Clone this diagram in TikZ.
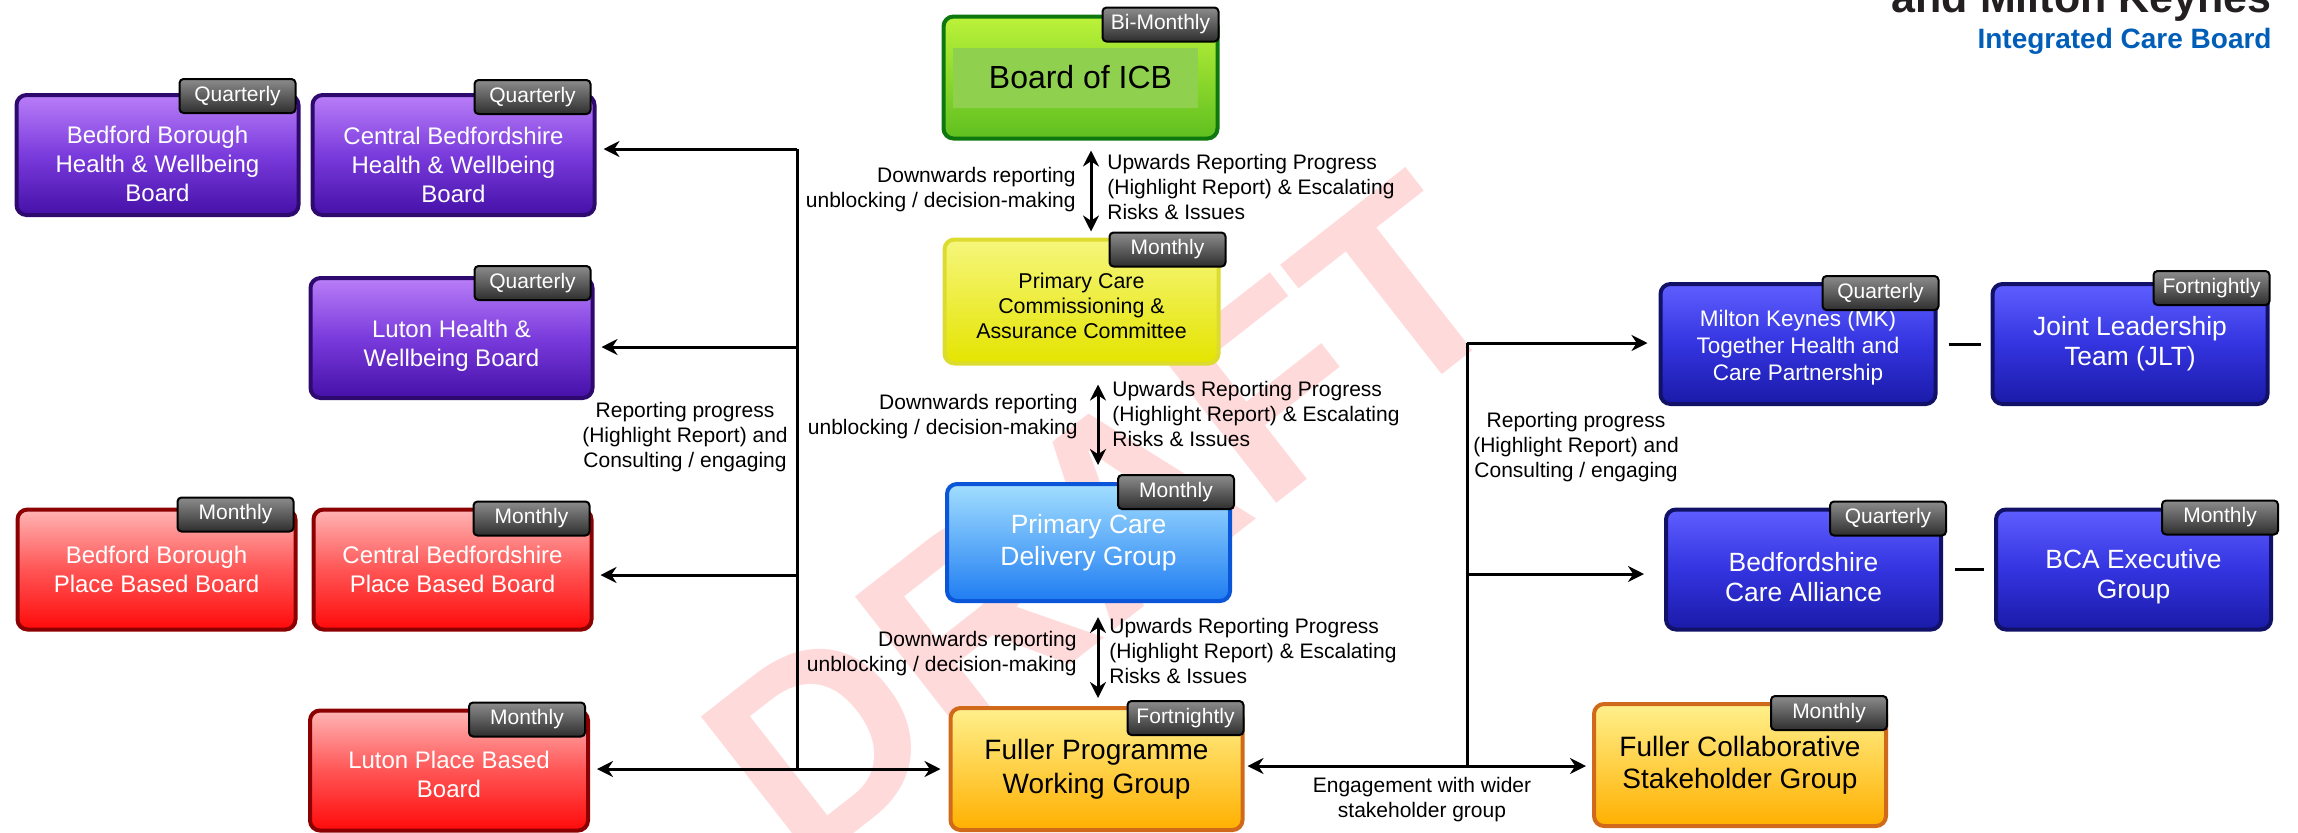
\documentclass[tikz,border=0pt]{standalone}
\usepackage{fontspec}
\setmainfont{Liberation Sans}
\usetikzlibrary{arrows.meta,positioning}

\definecolor{purpleline}{HTML}{2E0A6E}
\definecolor{purpletop}{HTML}{B97EF8}
\definecolor{purplemid}{HTML}{7A3BDC}
\definecolor{purplebot}{HTML}{4510A8}
\definecolor{redline}{HTML}{8B0000}
\definecolor{redtop}{HTML}{FFB5B5}
\definecolor{redmid}{HTML}{FF5555}
\definecolor{redbot}{HTML}{FF0A0A}
\definecolor{navyline}{HTML}{111168}
\definecolor{navytop}{HTML}{5E5EFF}
\definecolor{navymid}{HTML}{3434E0}
\definecolor{navybot}{HTML}{1A1AA8}
\definecolor{icbline}{HTML}{0E780E}
\definecolor{icbtop}{HTML}{BCF23A}
\definecolor{icbbot}{HTML}{5FBF1F}
\definecolor{icbinner}{HTML}{8FD14F}
\definecolor{yelline}{HTML}{DCDC30}
\definecolor{yeltop}{HTML}{F6F67C}
\definecolor{yelbot}{HTML}{E4E400}
\definecolor{blueline}{HTML}{0B55D8}
\definecolor{bluetop}{HTML}{A2DEFF}
\definecolor{bluebot}{HTML}{1F7DF2}
\definecolor{orangeline}{HTML}{D06A1A}
\definecolor{orangetop}{HTML}{FFF08C}
\definecolor{orangebot}{HTML}{FFB000}
\definecolor{tagtop}{HTML}{8C8C8C}
\definecolor{tagbot}{HTML}{2E2E2E}
\definecolor{draftpink}{HTML}{FFDADA}
\definecolor{logoblack}{HTML}{231F20}
\definecolor{nhsblue}{HTML}{005EB8}

\newcommand\droptext[1]{\rule{0pt}{#1}}

\tikzset{>={Stealth[length=8pt,width=8pt]},node distance=148pt,
  board/.style={draw,line width=2pt,rounded corners=5pt,inner sep=2pt,align=center,
    minimum width=139pt,minimum height=60pt,text=white,font=\fontsize{12}{14.5}\selectfont},
  purplebox/.style={board,minimum width=141pt,draw=purpleline,top color=purpletop,bottom color=purplebot,middle color=purplemid},
  redbox/.style={board,draw=redline,top color=redtop,bottom color=redbot,middle color=redmid},
  navybox/.style={board,minimum width=137.5pt,draw=navyline,top color=navytop,bottom color=navybot,middle color=navymid,
    font=\fontsize{13.2}{15}\selectfont},
  greenbox/.style={board,minimum width=137pt,minimum height=61pt,draw=icbline,top color=icbtop,bottom color=icbbot,
    text=black,font=\fontsize{16}{19}\selectfont,
    path picture={\fill[icbinner,sharp corners] ([xshift=4.5pt,yshift=-15.5pt]path picture bounding box.north west)
      rectangle ([xshift=-10pt,yshift=15.5pt]path picture bounding box.south east);}},
  yellowbox/.style={board,minimum width=137pt,minimum height=62pt,draw=yelline,top color=yeltop,bottom color=yelbot,
    text=black,font=\fontsize{10.7}{12.5}\selectfont},
  bluebox/.style={board,minimum width=141.5pt,minimum height=58.5pt,draw=blueline,top color=bluetop,bottom color=bluebot,
    font=\fontsize{13.2}{16}\selectfont},
  orangebox/.style={board,minimum width=146pt,minimum height=61pt,draw=orangeline,top color=orangetop,bottom color=orangebot,
    text=black,font=\fontsize{14}{17}\selectfont},
  freq/.style={draw=black,line width=1pt,rounded corners=2pt,top color=tagtop,bottom color=tagbot,text=white,
    minimum width=58pt,minimum height=17pt,inner sep=1pt,anchor=north east,font=\fontsize{10.5}{12}\selectfont},
  note/.style={inner sep=0pt,font=\fontsize{10.5}{12.5}\selectfont},
  bus/.style={line width=1.5pt}
}

\begin{document}
\begin{tikzpicture}[x=0.5pt,y=-0.5pt]
  \useasboundingbox (0,0) rectangle (2298,832);

  \node[rotate=38,text=draftpink,font=\fontsize{135}{135}\selectfont\bfseries] (draft) at (1105,520) {DRAFT};

  \node[anchor=base east,inner sep=0pt,text=logoblack,font=\fontsize{21.5}{24}\selectfont\bfseries] (logo) at (2272,12) {and Milton Keynes};
  \node[anchor=base east,inner sep=0pt,text=nhsblue,font=\fontsize{14}{16}\selectfont\bfseries] (icbname) at (2272,48) {Integrated Care Board};

  \node[greenbox] (icb) at (1080.5,77.5) {Board of ICB};
  \node[yellowbox] (pccac) at (1081.5,301.5) {\droptext{12.3pt}Primary Care\\Commissioning \&\\Assurance Committee};
  \node[bluebox] (pcdg) at (1088.5,542.5) {Primary Care\\Delivery Group};
  \node[orangebox] (fpwg) at (1096.5,769) {Fuller Programme\\Working Group};

  \node[purplebox] (bbhwb) at (157.5,155) {\droptext{17.8pt}Bedford Borough\\Health \& Wellbeing\\Board};
  \node[purplebox] (cbhwb) [right of=bbhwb] {\droptext{18.5pt}Central Bedfordshire\\Health \& Wellbeing\\Board};
  \node[purplebox] (luhwb) at (451.5,338) {\droptext{16.8pt}Luton Health \&\\Wellbeing Board};
  \node[redbox] (bbpbb) at (156.5,569.5) {Bedford Borough\\Place Based Board};
  \node[redbox] (cbpbb) [right of=bbpbb] {Central Bedfordshire\\Place Based Board};
  \node[redbox] (lupbb) at (449,770.5) {\droptext{12.3pt}Luton Place Based\\Board};

  \node[navybox,font=\fontsize{11.25}{13.5}\selectfont] (mkhcp) at (1798,344) {\droptext{12.2pt}Milton Keynes (MK)\\Together Health and\\Care Partnership};
  \node[navybox] (jlt) [right of=mkhcp,node distance=166pt] {Joint Leadership\\Team (JLT)};
  \node[navybox] (bca) at (1803.5,569.5) {\droptext{17pt}Bedfordshire\\Care Alliance};
  \node[navybox] (bcaeg) [right of=bca,node distance=165pt] {\droptext{17pt}BCA Executive\\Group};
  \node[orangebox,font=\fontsize{14}{16}\selectfont] (fcsg) at (1740,765) {Fuller Collaborative\\Stakeholder Group};

  \foreach \b/\f/\dx/\dy in {icb/Bi-Monthly/0/4,pccac/Monthly/3/3,pcdg/Monthly/1.5/4,fpwg/Fortnightly/0/3,
      bbhwb/Quarterly/-2/7.5,cbhwb/Quarterly/-2.5/7,luhwb/Quarterly/-1.5/5.5,
      bbpbb/Monthly/-1.5/5.5,cbpbb/Monthly/-1.5/3.5,lupbb/Monthly/-2/3.5,
      mkhcp/Quarterly/1/3.5,jlt/Fortnightly/0.5/6,bca/Quarterly/2/3.5,bcaeg/Monthly/3/4,fcsg/Monthly/0/3.5}
    \node[freq] (\b-freq) at ([xshift=\dx pt,yshift=\dy pt]\b.north east) {\f};

  \draw[bus,<->,shorten <=5pt,shorten >=3pt] ([xshift=5.25pt]icb.south) -- ([xshift=5.25pt]icb.south |- pccac.north);
  \draw[bus,<->,shorten <=9.5pt,shorten >=8.5pt] ([xshift=8.25pt]pccac.south) -- ([xshift=8.25pt]pccac.south |- pcdg.north);
  \draw[bus,<->,shorten <=7pt,shorten >=4pt] ([xshift=4.75pt]pcdg.south) -- ([xshift=4.75pt]pcdg.south |- fpwg.north);

  \node[note,anchor=east,align=right] (down1) at (1076,189.5) {Downwards reporting\\unblocking / decision-making};
  \node[note,anchor=west,align=left] (up1) at (1107,187) {Upwards Reporting Progress\\(Highlight Report) \& Escalating\\Risks \& Issues};
  \node[note,anchor=east,align=right] (down2) at (1078,417) {Downwards reporting\\unblocking / decision-making};
  \node[note,anchor=west,align=left] (up2) at (1112,414) {Upwards Reporting Progress\\(Highlight Report) \& Escalating\\Risks \& Issues};
  \node[note,anchor=east,align=right] (down3) at (1077,654) {Downwards reporting\\unblocking / decision-making};
  \node[note,anchor=west,align=left] (up3) at (1109,651) {Upwards Reporting Progress\\(Highlight Report) \& Escalating\\Risks \& Issues};

  \coordinate (lt) at (797,149);
  \coordinate (l1) at (797,347);
  \coordinate (l2) at (797,575);
  \coordinate (lb) at (797,769);
  \draw[bus] (lt) -- (lb);
  \draw[bus,->,shorten >=3.5pt] (lt) -- (lt -| cbhwb.east);
  \draw[bus,->,shorten >=3.5pt] (l1) -- (l1 -| luhwb.east);
  \draw[bus,->,shorten >=3.5pt] (l2) -- (l2 -| cbpbb.east);
  \draw[bus,<->,shorten <=3.5pt,shorten >=4pt] (lb -| lupbb.east) -- (lb -| fpwg.west);
  \node[note,align=center] (lrep) at (685,437) {Reporting progress\\(Highlight Report) and\\Consulting / engaging};

  \coordinate (rt) at (1467,343);
  \coordinate (r1) at (1467,574);
  \coordinate (rb) at (1467,766);
  \draw[bus] (rt) -- (rb);
  \draw[bus,->,shorten >=5.5pt] (rt) -- (rt -| mkhcp.west);
  \draw[bus,->,shorten >=10pt] (r1) -- (r1 -| bca.west);
  \draw[bus,<->,shorten <=1.5pt,shorten >=3pt] (rb -| fpwg.east) -- (rb -| fcsg.west);
  \node[note,align=center] (rrep) at (1576,447) {Reporting progress\\(Highlight Report) and\\Consulting / engaging};
  \node[note,align=center] (engage) at (1422,799.5) {Engagement with wider\\stakeholder group};

  \path[bus]
  (mkhcp) edge[shorten <=5.5pt,shorten >=5pt] (jlt)
  (bca) edge[shorten <=6pt,shorten >=5pt] (bcaeg)
  ;
\end{tikzpicture}
\end{document}
